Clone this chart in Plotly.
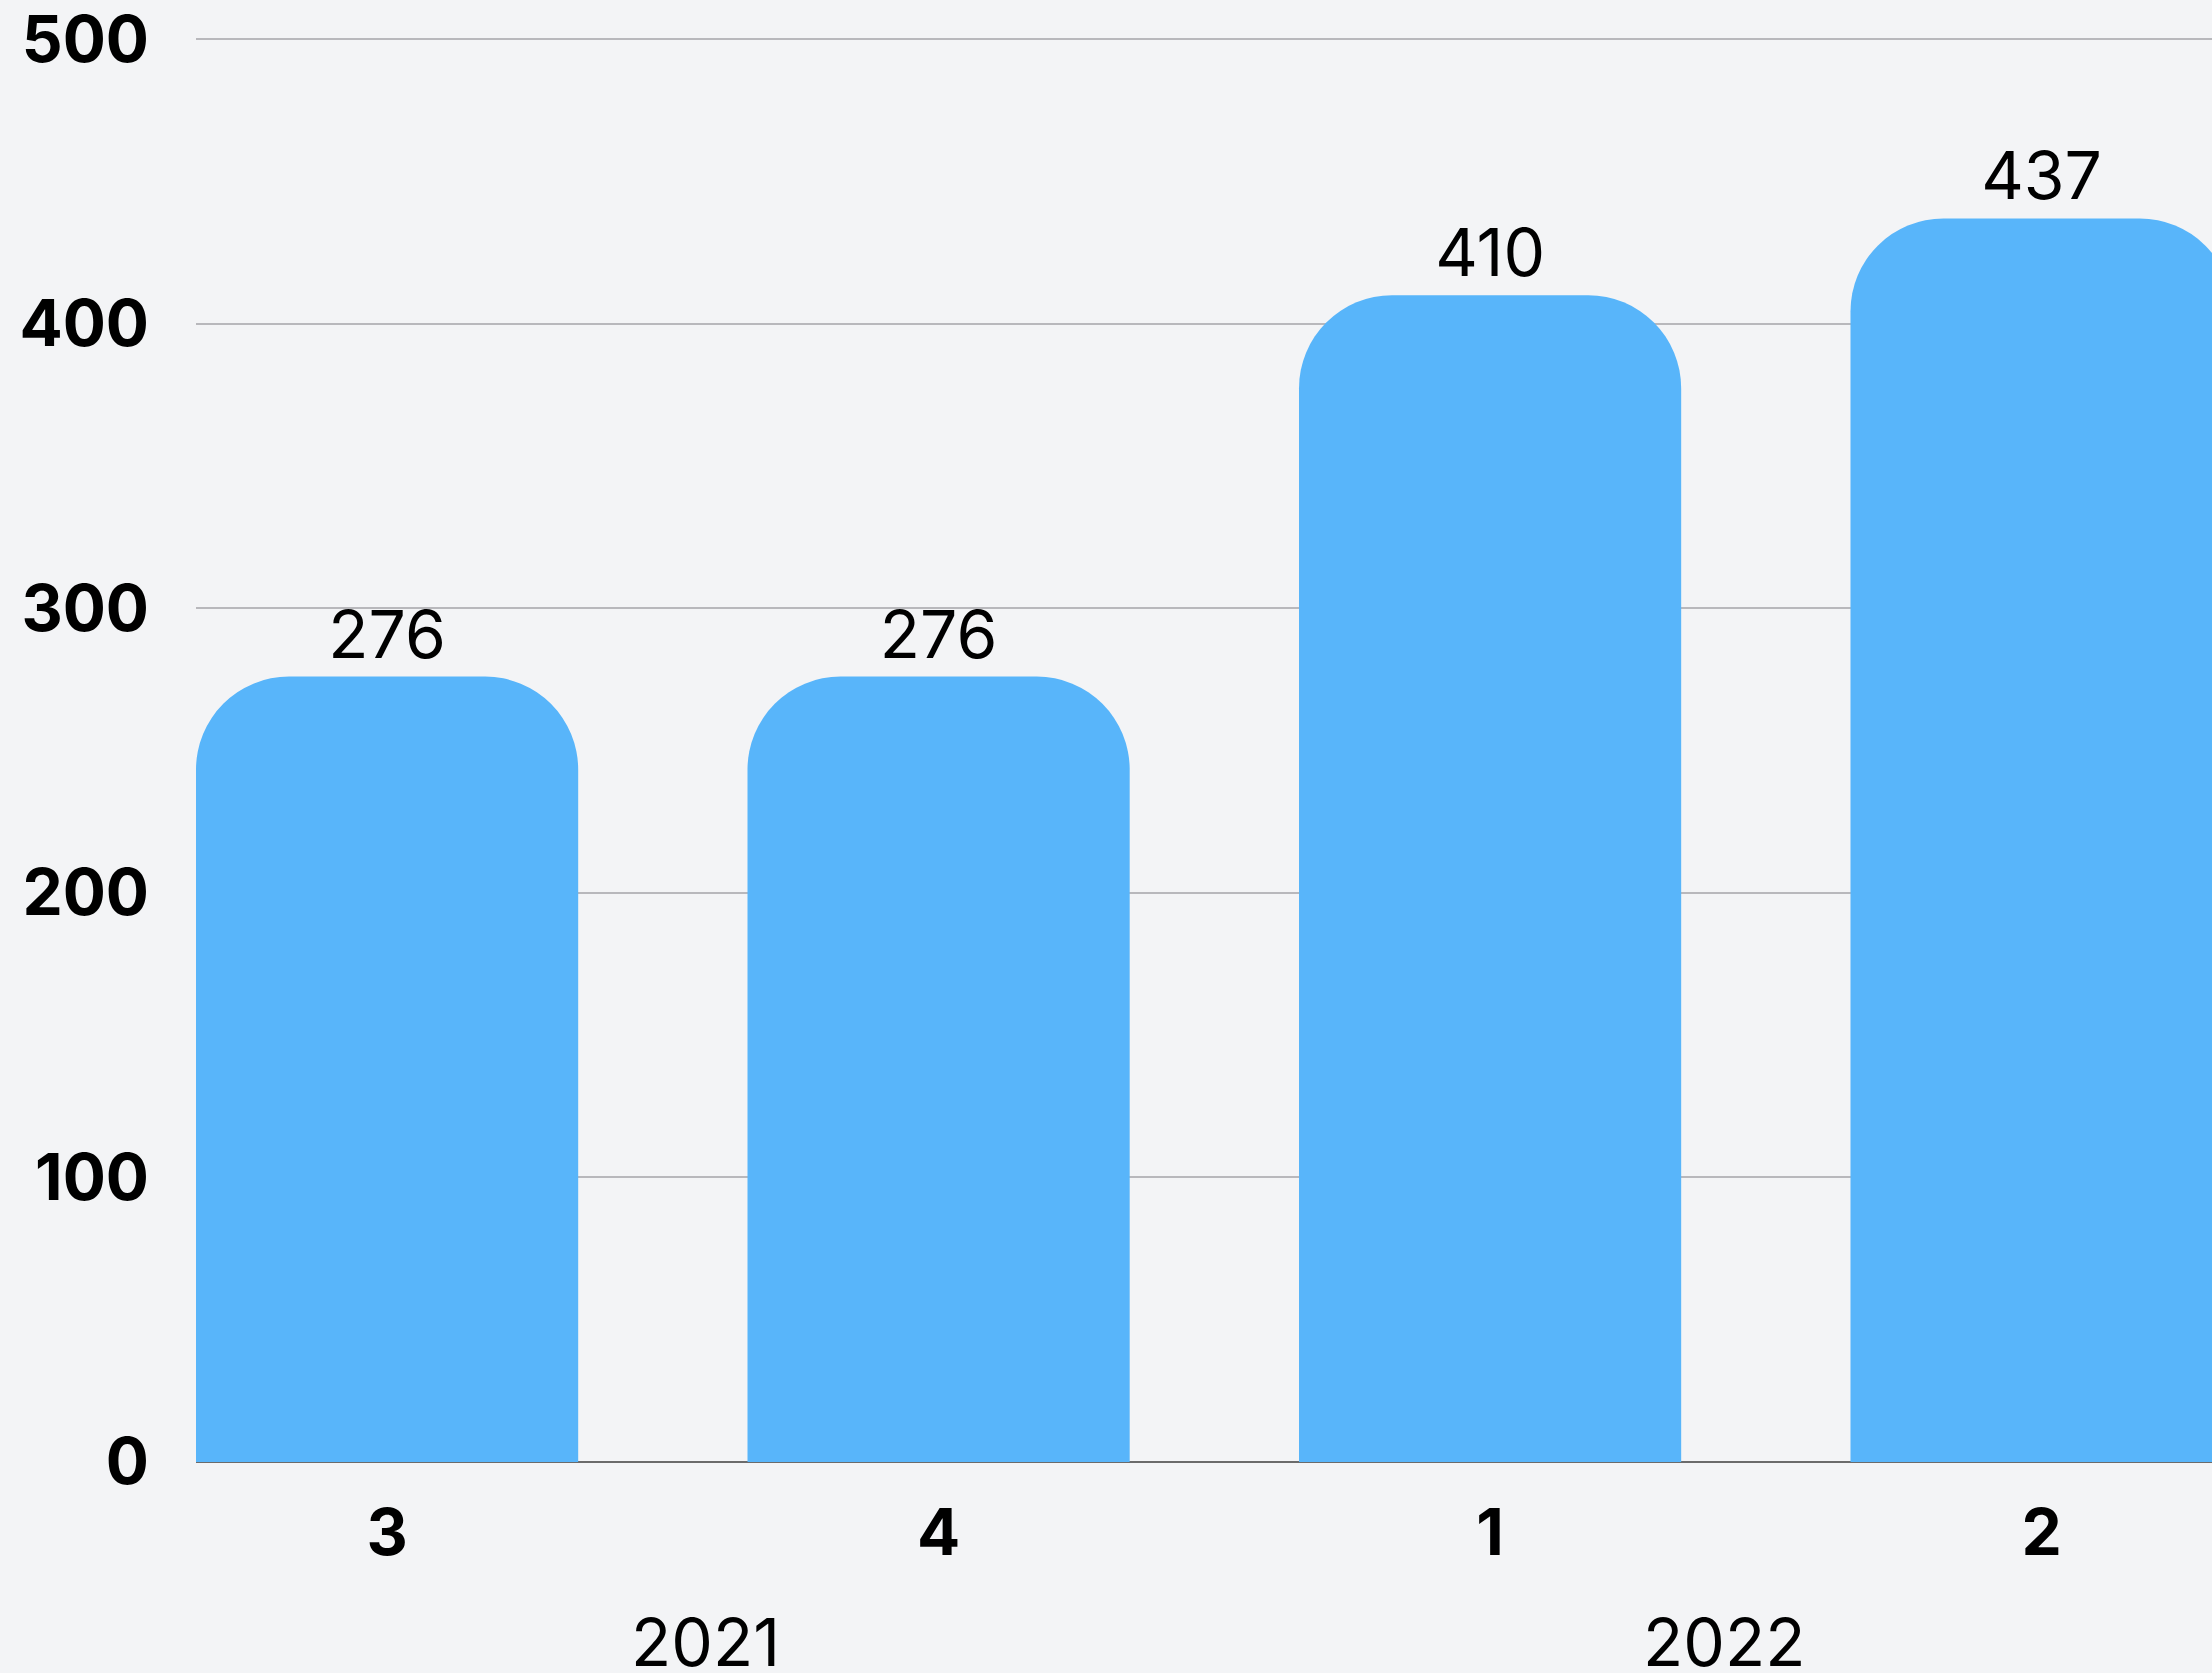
import plotly.graph_objects as go

quarters = ["3", "4", "1", "2"]
years = ["2021", "2021", "2022", "2022"]
values = [276, 276, 410, 437]
y_ticks = [0, 100, 200, 300, 400, 500]

FONT = "Inter"
BAR_COLOR = "#58b5fa"
BG = "#f3f4f6"

x_idx = list(range(len(values)))
bargap = 0.307
half = (1 - bargap) / 2

fig = go.Figure()
fig.add_trace(go.Bar(
    x=x_idx,
    y=values,
    marker=dict(color=BAR_COLOR, cornerradius=93, line=dict(width=0)),
    text=[str(v) for v in values],
    textposition="outside",
    textfont=dict(family=FONT, size=66, color="#000000"),
    cliponaxis=False,
    hoverinfo="skip",
))

x_lo = -half
x_hi = 3.309

# year group annotations centred on their group span within the axis
groups = []
for i, yr in enumerate(years):
    if not groups or groups[-1][0] != yr:
        groups.append([yr, i, i])
    else:
        groups[-1][2] = i
for yr, a, b in groups:
    left = max(a - 0.5, x_lo)
    right = b + 0.5 if b + 0.5 < len(values) - 0.5 else b + half
    fig.add_annotation(
        x=(left + right) / 2, y=0, xref="x", yref="paper",
        text=yr, showarrow=False, yanchor="middle", yshift=-180,
        font=dict(family=FONT, size=66, color="#000000"),
    )

fig.update_layout(
    width=2212, height=1673,
    margin=dict(l=196, r=0, t=38, b=211),
    paper_bgcolor=BG, plot_bgcolor=BG,
    bargap=bargap,
    showlegend=False,
    font=dict(family=FONT, color="#000000"),
)
fig.update_xaxes(
    range=[x_lo, x_hi],
    tickmode="array", tickvals=x_idx, ticktext=quarters,
    tickfont=dict(family=FONT, size=64, color="#000000", weight="bold"),
    showgrid=False, zeroline=False, showline=False,
    ticks="", ticklabelstandoff=28, ticklabeloverflow="allow",
)
fig.update_yaxes(
    range=[0, 500.4],
    tickmode="array", tickvals=y_ticks,
    tickfont=dict(family=FONT, size=64, color="#000000", weight="bold"),
    showgrid=True, gridcolor="#b8b8bc", gridwidth=2,
    zeroline=True, zerolinecolor="#6b6b6b", zerolinewidth=2,
    showline=False, ticks="", ticklabelstandoff=46, ticklabeloverflow="allow",
)

fig.write_html(
    "out.html",
    config={"displayModeBar": False},
    post_script="document.body.style.margin='0';document.body.style.padding='0';document.body.style.overflow='hidden';document.body.style.background='%s';" % BG,
)
